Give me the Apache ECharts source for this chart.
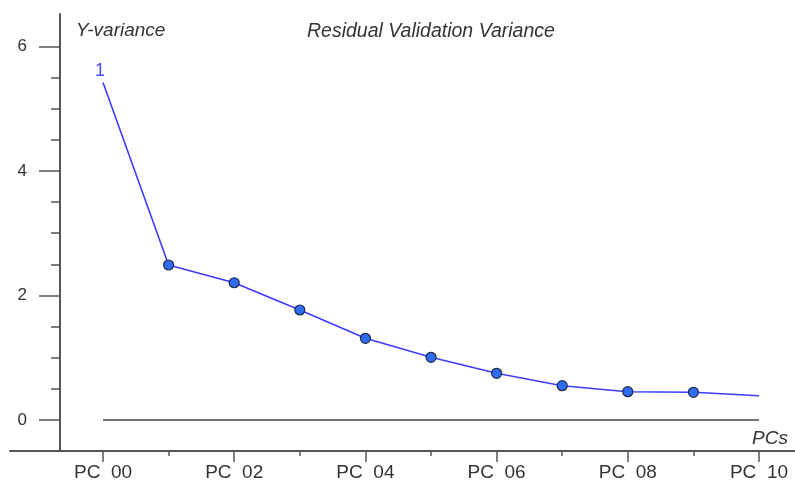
<!DOCTYPE html>
<html>
<head>
<meta charset="utf-8">
<script src="https://cdn.jsdelivr.net/npm/echarts@6/dist/echarts.min.js"></script>
<style>
  html, body { margin: 0; padding: 0; background: #ffffff; }
  #chart { width: 795px; height: 482px; }
</style>
</head>
<body>
<div id="chart"></div>
<script>
// Principal components on the x axis (PC 00 .. PC 10)
const pcIndex = [0, 1, 2, 3, 4, 5, 6, 7, 8, 9, 10];
// Residual validation Y-variance per number of PCs
const residualVariance = [5.42, 2.49, 2.205, 1.767, 1.312, 1.007, 0.75, 0.551, 0.455, 0.445, 0.39];
// Tag drawn beside the first point of the curve
const seriesTag = '1';
// Zero reference line across the PC range
const baselineX = [0, 10];
const baselineY = [0, 0];

// Tick positions and labels
const xMajorTicks = [0, 2, 4, 6, 8, 10];
const xMinorTicks = [1, 3, 5, 7, 9];
const xTickLabels = ['PC  00', 'PC  02', 'PC  04', 'PC  06', 'PC  08', 'PC  10'];
const yMajorTicks = [0, 2, 4, 6];
const yMinorTicks = [0.5, 1, 1.5, 2.5, 3, 3.5, 4.5, 5, 5.5];
const yTickLabels = ['0', '2', '4', '6'];

const FONT = '"Liberation Sans", Arial, sans-serif';
const AXIS_COLOR = '#555555';
const TEXT_COLOR = '#333333';
const X_MIN = -1.418, X_MAX = 10.549;
const Y_MIN = -0.498, Y_MAX = 6.522;

const chart = echarts.init(document.getElementById('chart'), null, { renderer: 'canvas' });

// Both ends of the curve carry no dot; the first one carries the series tag
const lastIdx = pcIndex.length - 1;
const curveData = pcIndex.map((x, i) => {
  const item = { value: [x, residualVariance[i]] };
  if (i === 0 || i === lastIdx) item.symbolSize = 0;
  if (i === 0) {
    item.label = {
      show: true, position: 'top', distance: 3, offset: [-3, 0],
      formatter: seriesTag, color: '#4a4aff', fontSize: 18, fontFamily: FONT
    };
  }
  return item;
});

const italicText = { fontSize: 19, fontStyle: 'italic', fontWeight: 'normal', color: TEXT_COLOR, fontFamily: FONT };

chart.setOption({
  animation: false,
  backgroundColor: '#ffffff',
  title: [
    { text: 'Residual Validation Variance', left: 307, top: 22, padding: 0, textStyle: Object.assign({}, italicText, { fontSize: 19.5 }) },
    { text: 'Y-variance', left: 76, top: 21, padding: 0, textStyle: italicText },
    { text: 'PCs', left: 752, top: 429, padding: 0, textStyle: italicText }
  ],
  grid: { left: 10, right: 0, top: 14, bottom: 31, containLabel: false, outerBoundsMode: 'none' },
  xAxis: [
    {
      type: 'value', min: X_MIN, max: X_MAX, position: 'bottom',
      axisLine: { show: true, onZero: false, lineStyle: { color: AXIS_COLOR, width: 2 } },
      axisTick: { show: true, customValues: xMajorTicks, length: 11, lineStyle: { color: AXIS_COLOR, width: 1.5 } },
      axisLabel: {
        customValues: xMajorTicks, margin: 12, fontSize: 19, color: TEXT_COLOR, fontFamily: FONT,
        formatter: v => xTickLabels[xMajorTicks.indexOf(v)] || ''
      },
      splitLine: { show: false }
    },
    {
      type: 'value', min: X_MIN, max: X_MAX, position: 'bottom',
      axisLine: { show: false, onZero: false },
      axisTick: { show: true, customValues: xMinorTicks, length: 5, lineStyle: { color: AXIS_COLOR, width: 1.5 } },
      axisLabel: { show: false },
      splitLine: { show: false }
    }
  ],
  yAxis: [
    {
      type: 'value', min: Y_MIN, max: Y_MAX, position: 'left', offset: -50,
      axisLine: { show: true, onZero: false, lineStyle: { color: AXIS_COLOR, width: 2 } },
      axisTick: { show: true, customValues: yMajorTicks, length: 21, lineStyle: { color: AXIS_COLOR, width: 1.5 } },
      axisLabel: {
        customValues: yMajorTicks, margin: 33, fontSize: 17, color: TEXT_COLOR, fontFamily: FONT,
        formatter: v => yTickLabels[yMajorTicks.indexOf(v)] || ''
      },
      splitLine: { show: false }
    },
    {
      type: 'value', min: Y_MIN, max: Y_MAX, position: 'left', offset: -50,
      axisLine: { show: false, onZero: false },
      axisTick: { show: true, customValues: yMinorTicks, length: 9, lineStyle: { color: AXIS_COLOR, width: 1.5 } },
      axisLabel: { show: false },
      splitLine: { show: false }
    }
  ],
  series: [
    {
      type: 'line',
      xAxisIndex: 0, yAxisIndex: 0,
      data: baselineX.map((x, i) => [x, baselineY[i]]),
      symbol: 'none',
      lineStyle: { color: '#444444', width: 1.5 },
      silent: true, z: 1
    },
    {
      type: 'line',
      xAxisIndex: 0, yAxisIndex: 0,
      data: curveData,
      symbol: 'circle', symbolSize: 10, showAllSymbol: true,
      lineStyle: { color: '#3c3cff', width: 1.6 },
      itemStyle: { color: '#2f6cf2', borderColor: '#1f2a44', borderWidth: 1.2 },
      z: 3
    }
  ]
});
</script>
</body>
</html>
